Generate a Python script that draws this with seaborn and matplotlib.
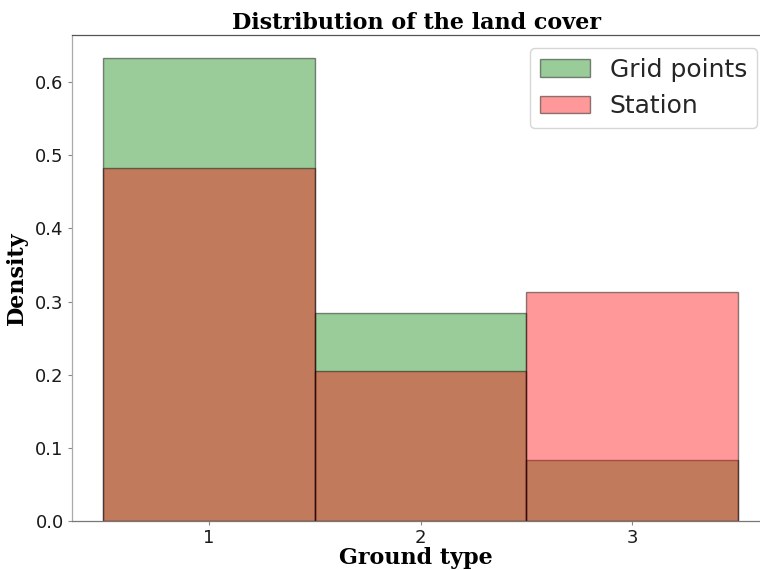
import numpy as np
import pandas as pd
import matplotlib
matplotlib.use("Agg")
import matplotlib.pyplot as plt
import seaborn as sns

# Land cover classes and their relative frequencies
ground_types = [1, 2, 3]
grid_density = [0.633, 0.284, 0.083]
station_density = [0.482, 0.205, 0.313]

grid_df = pd.DataFrame({"ground": ground_types, "w": grid_density})
station_df = pd.DataFrame({"ground": ground_types, "w": station_density})

sns.set_style("ticks")
plt.rcParams["font.family"] = ["DejaVu Sans"]

fig = plt.figure(figsize=(7.6, 5.7), dpi=100)
ax = fig.add_axes([72 / 760, 49 / 570, (760 - 72) / 760, (521 - 35) / 570])

edge = (0, 0, 0, 0.45)
sns.histplot(data=grid_df, x="ground", weights="w", discrete=True, stat="density",
             facecolor=(0, 0.5, 0, 0.4), edgecolor=edge, linewidth=1.0,
             label="Grid points", ax=ax)
sns.histplot(data=station_df, x="ground", weights="w", discrete=True, stat="density",
             facecolor=(1, 0, 0, 0.4), edgecolor=edge, linewidth=1.0,
             label="Station", ax=ax)

ax.set_xlim(0.352, 3.605)
ax.set_ylim(0, 0.6643)
ax.set_xticks(ground_types)
ax.set_yticks([0.0, 0.1, 0.2, 0.3, 0.4, 0.5, 0.6])
ax.tick_params(axis="both", labelsize=13, colors="#888888", labelcolor="#1a1a1a",
               length=3, width=0.8, pad=3)
for side in ["left", "bottom", "top"]:
    ax.spines[side].set_visible(True)
    ax.spines[side].set_linewidth(0.9)
ax.spines["left"].set_color("#aaaaaa")
ax.spines["bottom"].set_color("#777777")
ax.spines["top"].set_color("#555555")
ax.spines["right"].set_visible(False)

serif = {"family": "DejaVu Serif", "weight": "bold", "color": "black"}
ax.set_title("Distribution of the land cover", fontsize=16, fontdict=serif, pad=4)
ax.set_xlabel("Ground type", fontsize=16, fontdict=serif, labelpad=0)
ax.set_ylabel("Density", fontsize=16, fontdict=serif, labelpad=5)

ax.legend(loc="upper right", bbox_to_anchor=(0.996, 0.916),
          bbox_transform=fig.transFigure, borderaxespad=0, fontsize=18,
          frameon=True)

fig.savefig("out.png", dpi=100)
